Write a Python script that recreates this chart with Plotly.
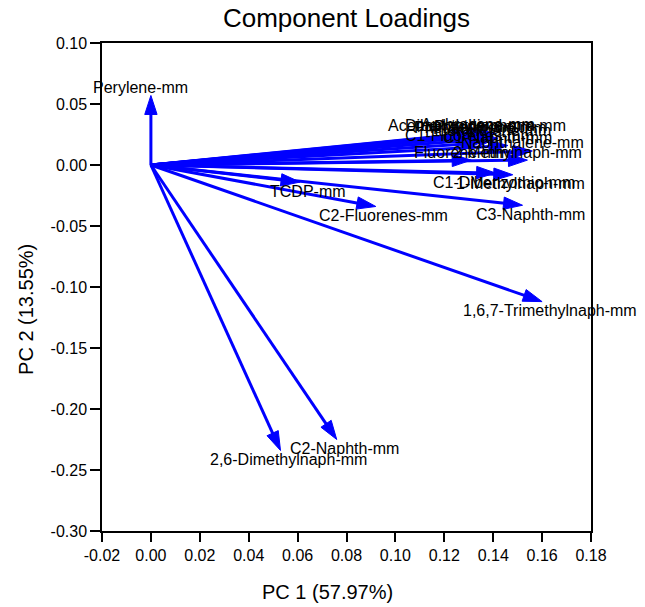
import plotly.graph_objects as go

# Variable loadings on the first two principal components
variables = [
    "Perylene-mm",
    "2,6-Dimethylnaph-mm",
    "C2-Naphth-mm",
    "1,6,7-Trimethylnaph-mm",
    "C3-Naphth-mm",
    "C2-Fluorenes-mm",
    "TCDP-mm",
    "C1-Dibenzothio-mm",
    "1-Methylnaph-mm",
    "Fluorene-mm",
    "2-Methylnaph-mm",
    "Naphthalene-mm",
    "C1-Fluorenes-mm",
    "C1-Naphth-mm",
    "Acenaphthylene-mm",
    "Anthracene-mm",
    "Phenanthrene-mm",
    "Fluoranthene-mm",
    "Pyrene-mm",
    "Dibenzothiophene-mm",
]
pc1 = [0.000, 0.053, 0.076, 0.160, 0.152, 0.092, 0.061, 0.141, 0.148,
       0.131, 0.154, 0.156, 0.1345, 0.146, 0.131, 0.138, 0.139, 0.142,
       0.137, 0.141]
pc2 = [0.057, -0.234, -0.225, -0.112, -0.033, -0.034, -0.014, -0.0066,
       -0.008, 0.004, 0.004, 0.0115, 0.018, 0.016, 0.026, 0.027, 0.024,
       0.022, 0.025, 0.026]

x_ticks = [-0.02, 0.00, 0.02, 0.04, 0.06, 0.08, 0.10, 0.12, 0.14, 0.16, 0.18]
y_ticks = [0.10, 0.05, 0.00, -0.05, -0.10, -0.15, -0.20, -0.25, -0.30]

FONT = "Liberation Sans, Arial, sans-serif"
BLUE = "#0000FF"
HEAD = 20

fig = go.Figure()

# one arrow per variable: shaft from the origin, narrow head at the loading
for name, px, py in zip(variables, pc1, pc2):
    fig.add_trace(go.Scatter(
        x=[0, px], y=[0, py], mode="lines+markers",
        line=dict(color=BLUE, width=3),
        marker=dict(symbol="arrow", angleref="previous", color=BLUE,
                    opacity=1, size=[0, HEAD], standoff=0,
                    line=dict(width=1, color=BLUE)),
        opacity=1, hoverinfo="skip", showlegend=False, cliponaxis=False,
    ))

annotations = []
for name, px, py in zip(variables, pc1, pc2):
    up = py > 0
    annotations.append(dict(
        x=px, y=py, xref="x", yref="y", text=name, showarrow=False,
        xanchor="center", yanchor="middle",
        xshift=-10 if up else 8, yshift=8 if up else -9,
        font=dict(family=FONT, size=16, color="black"),
    ))

# axis titles
annotations.append(dict(
    text="PC 1 (57.97%)", xref="paper", yref="paper", x=0.462, y=0,
    xanchor="center", yanchor="middle", yshift=-61, showarrow=False,
    font=dict(family=FONT, size=20, color="black"),
))
annotations.append(dict(
    text="PC 2 (13.55%)", xref="paper", yref="paper", x=0, y=0.453,
    xanchor="center", yanchor="middle", xshift=-76, textangle=-90,
    showarrow=False, font=dict(family=FONT, size=20, color="black"),
))

fig.update_layout(
    width=645, height=607,
    margin=dict(l=102, r=54, t=43, b=76),
    paper_bgcolor="white", plot_bgcolor="white",
    title=dict(text="Component Loadings", x=(102 + 591) / 2 / 645,
               xanchor="center", y=1 - 18 / 607, yanchor="middle",
               yref="container",
               font=dict(family=FONT, size=26, color="black")),
    annotations=annotations,
    showlegend=False,
)
fig.update_xaxes(
    range=[-0.02, 0.18], tickvals=x_ticks,
    ticktext=[f"{v:.2f}".replace("-0.00", "0.00") for v in x_ticks],
    ticks="outside", ticklen=9, tickwidth=1.5, tickcolor="black",
    showline=True, linecolor="black", linewidth=1.5, mirror=True,
    showgrid=False, zeroline=False,
    tickfont=dict(family=FONT, size=16, color="black"),
)
fig.update_yaxes(
    range=[-0.30, 0.10], tickvals=y_ticks,
    ticktext=[f"{v:.2f}".replace("-0.00", "0.00") for v in y_ticks],
    ticks="outside", ticklen=10, tickwidth=1.5, tickcolor="black",
    showline=True, linecolor="black", linewidth=1.5, mirror=True,
    showgrid=False, zeroline=False,
    tickfont=dict(family=FONT, size=16, color="black"),
)

fig.write_html("out.html")
